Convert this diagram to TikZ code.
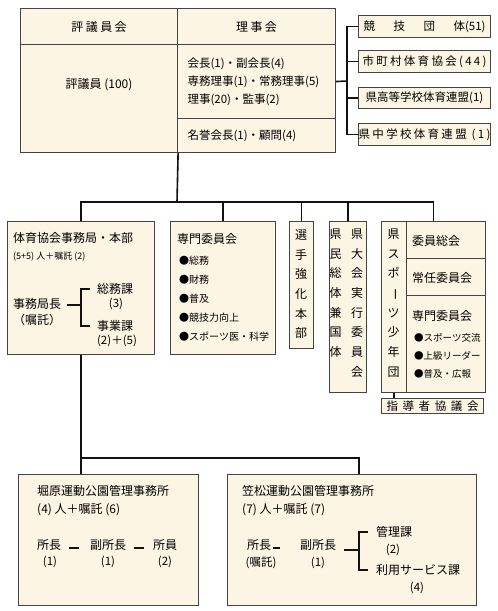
\documentclass[tikz,border=0pt]{standalone}
\usepackage{fontspec}
\setmainfont{Noto Sans CJK JP}
\newfontfamily\jpwide[LetterSpace=20]{Noto Sans CJK JP}
\newfontfamily\jpwider[LetterSpace=40]{Noto Sans CJK JP}
\usetikzlibrary{positioning, calc}
\definecolor{cFill}{HTML}{FDF5E4}
\definecolor{cEdge}{HTML}{444444}
\definecolor{cLine}{HTML}{111111}
\newcommand{\fhd}{\fontsize{12}{19.7}\selectfont}
\newcommand{\fbd}{\fontsize{11.5}{18}\selectfont}
\newcommand{\fsm}{\fontsize{9.5}{18}\selectfont}
\newcommand{\tatebo}{\rotatebox[origin=c]{-90}{ー}}
\tikzset{
  cell/.style 2 args={
    draw=cEdge, fill=cFill, line width=1.1pt,
    anchor=north west, inner sep=0pt,
    minimum width=#1, minimum height=#2, font=\fhd,
  },
  lbl/.style={anchor=west, inner sep=0pt, font=\fhd},
  num/.style={inner sep=0pt, font=\fbd},
  vtext/.style={anchor=north, inner sep=0pt, align=center, font=\fhd},
  link/.style={draw=cLine, line width=1.6pt},
  brk/.style={draw=cLine, line width=1.3pt},
  tie/.style={draw=cLine, line width=2pt},
}
\begin{document}
\begin{tikzpicture}[x=1pt, y=-1pt]
  \useasboundingbox (0,0) rectangle (498,611);

  % Top block -- 評議員会 / 理事会
  \node[cell={157pt}{36pt}, font=\jpwide\fhd] (hyogikai) at (20,8) {評議員会};
  \node[cell={158pt}{36pt}, font=\jpwide\fhd] (rijikai) at (177,8) {理事会};
  \node[cell={157pt}{108pt}] (hyogiin) at (20,44) {};
  \node[lbl, anchor=center] (hyogiinT) at (99,85) {評議員 (100)};
  \node[cell={158pt}{74pt}, text width=138pt, align=left, font=\fbd] (yakuin) at (177,44)
    {会長(1)・副会長(4)\\専務理事(1)・常務理事(5)\\理事(20)・監事(2)};
  \node[cell={158pt}{34pt}, text width=138pt, align=left, font=\fbd] (meiyo) at (177,118)
    {名誉会長(1)・顧問(4)};

  % Member bodies on the right
  \node[cell={132pt}{22pt}, font=\fbd] (kyogi) at (358,15)
    {\makebox[122pt][s]{競 技 団 体(51)}};
  \node[cell={132pt}{22pt}, font=\jpwide\fbd] (shichoson) at (358,50) {市町村体育協会(44)};
  \node[cell={132pt}{21pt}, font=\fbd] (kenko) at (358,87) {県高等学校体育連盟(1)};
  \node[cell={132pt}{22pt}, font=\jpwide\fbd] (kenchu) at (358,123) {県中学校体育連盟 (1)};

  \coordinate (rj) at (347,81);
  \draw[link] (yakuin.east) -- (rj);
  \draw[link] (kyogi.west) -| (rj);
  \draw[link] (kenchu.west) -| (rj);
  \draw[link] (shichoson.west) -- (shichoson.west -| rj);
  \draw[link] (kenko.west) -- (kenko.west -| rj);

  % Second row boxes
  \node[cell={147pt}{133pt}] (jimu) at (7,221) {};
  \node[cell={105pt}{133pt}] (senmon) at (170,221) {};
  \node[cell={24pt}{127pt}] (senshu) at (289,221) {};
  \node[cell={37pt}{171pt}] (kenmin) at (329,221) {};
  \node[cell={104pt}{171pt}] (sport) at (381,221) {};
  \node[cell={25pt}{171pt}] (shonen) at (381,221) {};
  \node[cell={79pt}{37pt}] (iinsokai) at (406,221) {};
  \node[cell={79pt}{37pt}] (jonin) at (406,258) {};
  \node[cell={79pt}{97pt}] (senmonB) at (406,295) {};
  \node[cell={102pt}{15pt}, font=\jpwider\fbd] (shido) at (381,398) {指導者協議会};

  % Bus from the top block
  \coordinate (bus) at (177,202);
  \draw[link] (hyogiin.south east) -- (bus);
  \draw[link] (jimu.north) |- (bus) -| (sport.north);
  \draw[link] (senmon.north) -- (senmon.north |- bus);
  \draw[link] (senshu.north) -- (senshu.north |- bus);
  \draw[link] (kenmin.north) -- (kenmin.north |- bus);
  \draw[link] (shonen.south) -- (shonen.south |- shido.north);

  % 体育協会事務局・本部
  \node[lbl] (jimuT) at (13,238) {体育協会事務局・本部};
  \node[lbl, font=\fontsize{9}{11}\selectfont] (jimuN) at (13,257) {(5+5) 人＋嘱託 (2)};
  \node[lbl] (kyokucho) at (13,304) {事務局長};
  \node[lbl] (kyokuchoN) at (13,320) {（嘱託）};
  \node[lbl] (somu) at (97,289) {総務課};
  \node[num] (somuN) at (116,304) {(3)};
  \node[lbl] (jigyo) at (97,326) {事業課};
  \node[num] (jigyoN) at (117,341) {(2)＋(5)};
  \coordinate (jj) at (81,305);
  \draw[brk, shorten <=6pt] (kyokucho.east |- jj) -- (jj);
  \draw[brk, shorten <=7pt] (somu.west) -| (jj);
  \draw[brk, shorten <=7pt] (jigyo.west) -| (jj);

  % 専門委員会
  \node[lbl] (senmonT) at (177,239) {専門委員会};
  \node[anchor=north west, inner sep=0pt, align=left, font=\fontsize{10}{19}\selectfont] (senmonL) at (179,256)
    {●総務\\●財務\\●普及\\●競技力向上\\●スポーツ医・科学};

  % vertical names
  \node[vtext] (senshuT) at (301,229.5) {選\\手\\強\\化\\本\\部};
  \node[vtext] (kenminT) at (335.5,228.5) {県\\民\\総\\体\\兼\\国\\体};
  \node[vtext] (taikaiT) at (357,228.5) {県\\大\\会\\実\\行\\委\\員\\会};
  \node[vtext] (shonenT) at (393.5,228.5) {県\\ス\\ポ\\\tatebo\\ツ\\少\\年\\団};

  % スポーツ少年団 right column
  \node[lbl] (iinsokaiT) at (412,241) {委員総会};
  \node[lbl] (joninT) at (412,278) {常任委員会};
  \node[lbl] (senmonBT) at (412,316) {専門委員会};
  \node[lbl, font=\fsm] (koryu) at (414,338) {●スポーツ交流};
  \node[lbl, font=\fsm] (leader) at (414,356) {●上級リーダー};
  \node[lbl, font=\fsm] (fukyu) at (414,374) {●普及・広報};

  % Park offices
  \node[cell={180pt}{131pt}] (hori) at (18,474) {};
  \node[cell={249pt}{131pt}] (kasa) at (227,474) {};
  \coordinate (busB) at (359,458);
  \draw[link] (jimu.south) -- (jimu.south |- hori.north);
  \draw[link] (jimu.south |- busB) -- (busB) -- (busB |- kasa.north);

  % 堀原運動公園管理事務所
  \node[lbl] (horiT) at (37,491) {堀原運動公園管理事務所};
  \node[lbl] (horiN) at (37,510) {(4) 人＋嘱託 (6)};
  \node[lbl] (hcho) at (37,545) {所長};
  \node[num] (hchoN) at (50,562) {(1)};
  \node[lbl] (hfuku) at (90,545) {副所長};
  \node[num] (hfukuN) at (108,562) {(1)};
  \node[lbl] (hin) at (153,545) {所員};
  \node[num] (hinN) at (165,562) {(2)};
  \draw[tie, shorten <=8pt, shorten >=11pt] ([yshift=-3pt]hcho.east) -- ([yshift=-3pt]hfuku.west);
  \draw[tie, shorten <=8pt, shorten >=9pt] ([yshift=-3pt]hfuku.east) -- ([yshift=-3pt]hin.west);

  % 笠松運動公園管理事務所
  \node[lbl] (kasaT) at (242,491) {笠松運動公園管理事務所};
  \node[lbl] (kasaN) at (242,510) {(7) 人＋嘱託 (7)};
  \node[lbl] (kcho) at (247,545) {所長};
  \node[num] (kchoN) at (261,563) {(嘱託)};
  \node[lbl] (kfuku) at (300,545) {副所長};
  \node[num] (kfukuN) at (318,563) {(1)};
  \node[lbl] (kanri) at (376,532) {管理課};
  \node[num] (kanriN) at (393,550) {(2)};
  \node[lbl] (riyo) at (376,570) {利用サービス課};
  \node[num] (riyoN) at (417,588) {(4)};
  \draw[tie, shorten <=2pt, shorten >=20pt] ([yshift=-3pt]kcho.east) -- ([yshift=-3pt]kfuku.west);
  \coordinate (kj) at (359,550);
  \draw[brk, shorten <=8pt] (kfuku.east |- kj) -- (kj);
  \draw[brk, shorten <=8pt] (kanri.west) -| (kj);
  \draw[brk, shorten <=8pt] (riyo.west) -| (kj);

\end{tikzpicture}
\end{document}
